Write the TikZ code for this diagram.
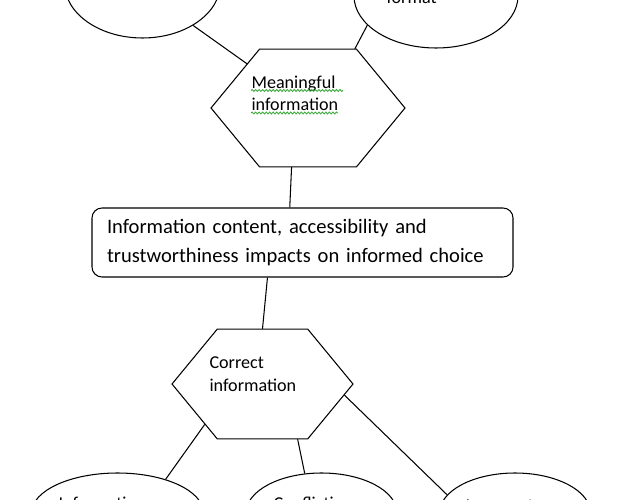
\documentclass[tikz,border=0pt]{standalone}
\usepackage{fontspec}
\setmainfont{Carlito}
\usepackage{tikz}
\usetikzlibrary{positioning,shapes.geometric,decorations.pathmorphing}
\definecolor{squiggle}{RGB}{60,170,60}

\begin{document}
\begin{tikzpicture}[line width=0.6pt,
  bubble/.style={draw, ellipse, inner sep=0pt},
  hexa/.style={draw, regular polygon, regular polygon sides=6, inner sep=0pt, yscale=0.7, transform shape},
  hextext/.style={anchor=north west, inner sep=0pt, align=left, font=\fontsize{10.3}{13}\selectfont},
  cuttext/.style={anchor=base west, inner sep=0pt, font=\fontsize{10.3}{13}\selectfont},
  wavy/.style={squiggle, line width=0.5pt, decorate, decoration={snake, amplitude=0.55pt, segment length=2pt}}]
\useasboundingbox (0,0) rectangle (12.54,-10);

% top ovals
\node[bubble, minimum width=3.12cm, minimum height=2.2cm] (ovA) at (2.85,0.34) {};
\node[bubble, minimum width=3.28cm, minimum height=2.08cm] (ovB) at (8.72,0.08) {};
\node[cuttext] (fmtTxt) at (7.72,-0.08) {format};

% first hexagon
\node[hexa, minimum size=3.88cm] (hexA) at (6.16,-2.16) {};
\node[hextext] (meanTxt) at (5.02,-1.5) {Meaningful\\information};
\draw[wavy] (5.02,-1.81) -- (6.86,-1.81);
\draw[wavy] (5.02,-2.26) -- (6.76,-2.26);

% main box
\node[draw, rounded corners=0.2cm, text width=7.82cm, inner xsep=0.3cm, minimum height=1.38cm, align=left, font=\fontsize{11.7}{16.5}\selectfont] (impact) at (6.05,-4.85) {Information content, accessibility and\\trustworthiness impacts on informed choice};

% second hexagon
\node[hexa, minimum size=3.62cm] (hexB) at (5.25,-7.68) {};
\node[hextext] (corrTxt) at (4.18,-7.12) {Correct\\information};

% bottom ovals
\node[bubble, minimum width=3.44cm, minimum height=1.6cm] (ovC) at (2.35,-10.26) {};
\node[bubble, minimum width=3.02cm, minimum height=1.6cm] (ovD) at (6.43,-10.26) {};
\node[bubble, minimum width=3.02cm, minimum height=1.6cm] (ovE) at (10.30,-10.26) {};
\node[cuttext] (infoTxt) at (1.16,-10.18) {Information};
\node[cuttext] (confTxt) at (5.46,-10.18) {Conflicting};
\node[cuttext] (inaccTxt) at (9.30,-10.22) {Inaccurate};

% links
\draw (ovA.-40) -- (hexA.134);
\draw (ovB.-157) -- (hexA.61);
\draw (hexA.-101) -- (impact.110);
\draw (impact.-135) -- (hexB.north);
\draw (hexB.-135) -- (ovC.35);
\draw (hexB.-66) -- (ovD.113);
\draw (hexB.-11) -- (ovE.165);
\end{tikzpicture}
\end{document}
